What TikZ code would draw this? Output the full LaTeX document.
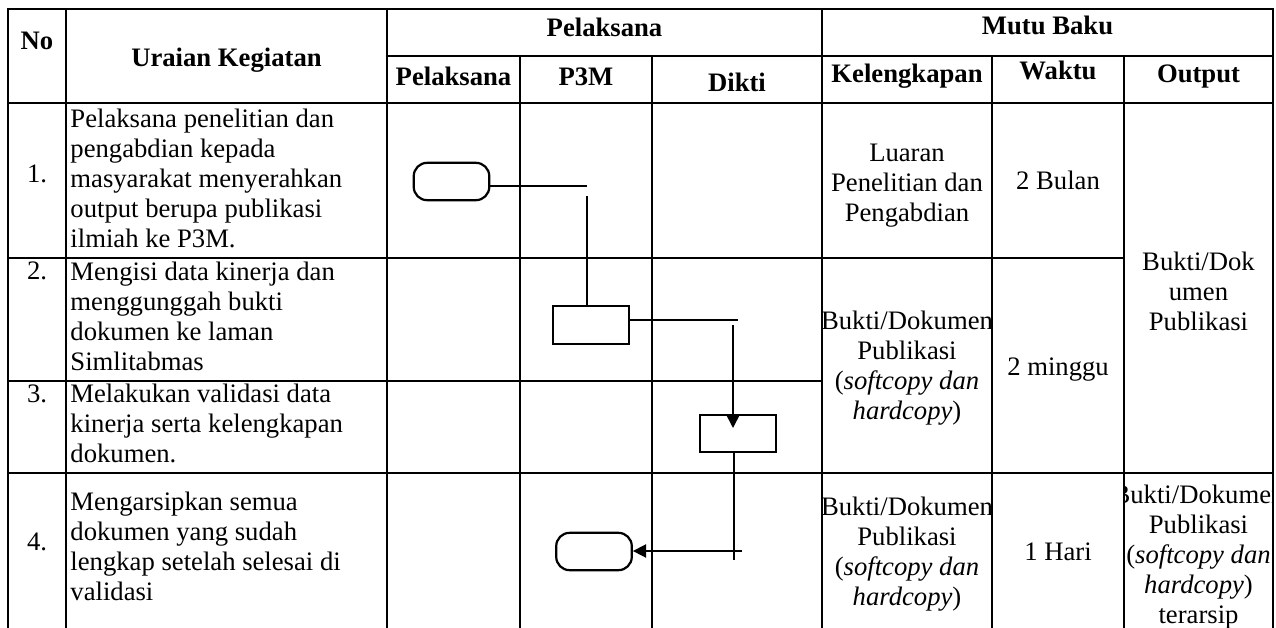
\documentclass[tikz,border=0pt]{standalone}
\usepackage{fontspec}
\setmainfont{Liberation Serif}
\usetikzlibrary{arrows.meta}
\begin{document}
\begin{tikzpicture}[x=0.45pt,y=-0.45pt]
\tikzset{
 grid/.style={line width=0.7pt, line cap=rect},
 term/.style={draw, line width=1pt, rounded corners=6pt, minimum width=34pt, minimum height=16.8pt, inner sep=0pt},
 proc/.style={draw, line width=1pt, minimum width=34pt, minimum height=16.8pt, inner sep=0pt},
 conn/.style={line width=0.75pt},
 arr/.style={conn, -{Triangle[length=6pt,width=6pt]}},
 txt/.style={font=\fontsize{12}{13.5}\selectfont, inner sep=0pt},
 hd/.style={inner sep=0pt, font=\fontsize{12}{13.5}\selectfont\bfseries, anchor=base},
 lt/.style={txt, align=left, anchor=north west},
 ct/.style={txt, align=center, anchor=north},
 one/.style={txt, anchor=base},
}
\useasboundingbox (0,0) rectangle (1276,628);
% grid
\draw[grid] (8,9) -- (1273,9);
\draw[grid] (387,56) -- (1273,56);
\draw[grid] (8,103) -- (1273,103);
\draw[grid] (8,258) -- (1124,258);
\draw[grid] (8,381) -- (822,381);
\draw[grid] (8,473) -- (1273,473);
\draw[grid] (8,9) -- (8,628);
\draw[grid] (66,9) -- (66,628);
\draw[grid] (387,9) -- (387,628);
\draw[grid] (520,56) -- (520,628);
\draw[grid] (652,56) -- (652,628);
\draw[grid] (822,9) -- (822,628);
\draw[grid] (992,56) -- (992,628);
\draw[grid] (1124,56) -- (1124,628);
\draw[grid] (1273,9) -- (1273,628);
% header
\node[hd] (hno) at (37,50) {No};
\node[hd] (hur) at (226.5,67) {Uraian Kegiatan};
\node[hd] (hpel) at (604.5,37) {Pelaksana};
\node[hd] (hmb) at (1047.5,35) {Mutu Baku};
\node[hd] (hp1) at (453.5,86) {Pelaksana};
\node[hd] (hp2) at (586,86) {P3M};
\node[hd] (hp3) at (737,92) {Dikti};
\node[hd] (hk) at (907,83) {Kelengkapan};
\node[hd] (hw) at (1058,80) {Waktu};
\node[hd] (ho) at (1198.5,83) {Output};
% numbers
\node[one] (n1) at (37,183) {1.};
\node[one] (n2) at (37,280) {2.};
\node[one] (n3) at (37,402) {3.};
\node[one] (n4) at (37,550) {4.};
% activities
\node[lt] (u1) at (70,106) {\strut Pelaksana penelitian dan\\pengabdian kepada\\masyarakat menyerahkan\\output berupa publikasi\\ilmiah ke P3M.};
\node[lt] (u2) at (70,259) {\strut Mengisi data kinerja dan\\menggunggah bukti\\dokumen ke laman\\Simlitabmas};
\node[lt] (u3) at (70,381) {\strut Melakukan validasi data\\kinerja serta kelengkapan\\dokumen.};
\node[lt] (u4) at (70,489) {\strut Mengarsipkan semua\\dokumen yang sudah\\lengkap setelah selesai di\\validasi};
% kelengkapan
\node[ct] (k1) at (907,140) {\strut Luaran\\Penelitian dan\\Pengabdian};
\begin{scope}
\clip (823,259) rectangle (991,472);
\node[ct] (k2) at (907,308) {\strut Bukti/Dokumen\\Publikasi\\(\textit{softcopy dan}\\\textit{hardcopy})};
\end{scope}
\begin{scope}
\clip (823,474) rectangle (991,628);
\node[ct] (k4) at (907,494) {\strut Bukti/Dokumen\\Publikasi\\(\textit{softcopy dan}\\\textit{hardcopy})};
\end{scope}
% waktu
\node[one] (w1) at (1058,190) {2 Bulan};
\node[one] (w2) at (1058,375) {2 minggu};
\node[one] (w4) at (1058,560) {1 Hari};
% output
\node[ct] (o1) at (1198.5,249) {\strut Bukti/Dok\\umen\\Publikasi};
\begin{scope}
\clip (1125,474) rectangle (1272,628);
\node[ct] (o4) at (1198.5,482) {\strut Bukti/Dokumen\\Publikasi\\(\textit{softcopy dan}\\\textit{hardcopy})\\terarsip};
\end{scope}
% flow shapes
\node[term] (t1) at (451.5,181.5) {};
\node[proc] (r2) at (591,325) {};
\node[proc] (r3) at (738,433.5) {};
\node[term] (t4) at (594,551.5) {};
% connectors
\coordinate (h1) at (587,186);
\coordinate (v1) at (587,196);
\draw[conn] (t1.east |- h1) -- (h1);
\draw[conn] (v1) -- (v1 |- r2.north);
\coordinate (h2) at (738,320);
\draw[conn] (r2.east |- h2) -- (h2);
\coordinate (v2) at (733,325);
\coordinate (a2) at (733,428);
\draw[arr] (v2) -- (a2);
\coordinate (v3) at (734,560);
\draw[conn] (r3.south -| v3) -- (v3);
\coordinate (h4) at (742,551);
\draw[arr] (h4) -- (t4.east |- h4);
\end{tikzpicture}
\end{document}
